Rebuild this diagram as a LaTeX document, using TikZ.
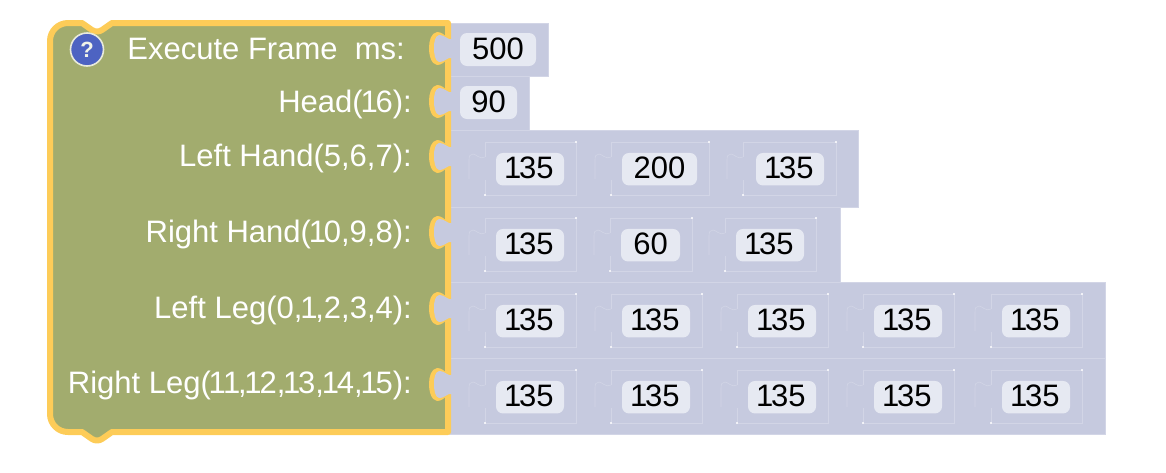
\documentclass[tikz,border=0pt]{standalone}
\usepackage{fontspec}
\setmainfont{Liberation Sans}
\definecolor{blockgreen}{HTML}{A2AC6E}
\definecolor{blockyellow}{HTML}{FDCC58}
\definecolor{rowgrey}{HTML}{C6CADF}
\definecolor{rowline}{HTML}{D2D5E6}
\definecolor{chipgrey}{HTML}{E6E9F2}
\definecolor{helpblue}{HTML}{4D63C2}
\newcommand{\nar}{\kern-2.2pt 1\kern-2.2pt}
\tikzset{
  rowbox/.style = {fill = rowgrey, draw = rowline, line width = 0.6},
  slotline/.style = {draw = rowline, line width = 0.6},
  chip/.style = {fill = chipgrey, rounded corners = 7, inner sep = 0, text height = 25.5, text depth = 7, font = \fontsize{31}{34}\selectfont},
  rowlabel/.style = {anchor = base east, inner sep = 0, text = white, font = \fontsize{31}{34}\selectfont},
}
\begin{document}
\begin{tikzpicture}[x = 1pt, y = -1pt]
\useasboundingbox (0,0) rectangle (1166,472);
% value rows behind the block
\foreach \top/\bottom/\right in {23/76/548,76/130/529,130/207/858,207/282/840,282/358/1105,358/434/1105} \draw [rowbox] (449,\top) rectangle (\right,\bottom);
% main block
\draw [fill = blockgreen, draw = blockyellow, line width = 6, line join = round] (50,41) .. controls (50,31) and (58,23) .. (68,23) -- (82,23) -- (92,30) .. controls (95,32) and (99,32) .. (102,30) -- (112,23) -- (448,23) -- (448,432) -- (112,432) -- (102,439) .. controls (99,441) and (95,441) .. (92,439) -- (82,432) -- (68,432) .. controls (58,432) and (50,424) .. (50,414) -- cycle;
% sockets, and the tabs of the rows in them
\foreach \c in {48,101,156,232,308,384} {
  \fill [blockyellow] (448,\c-10) .. controls (444,\c-13) and (442,\c-16) .. (437,\c-16) .. controls (431,\c-15) and (429,\c-7) .. (429,\c) .. controls (429,\c+7) and (431,\c+16) .. (437,\c+17) .. controls (442,\c+17) and (444,\c+14) .. (448,\c+11) -- cycle;
  \fill [rowgrey] (452,\c-9) -- (449,\c-9) .. controls (445,\c-11) and (443,\c-13) .. (439,\c-13) .. controls (435,\c-12) and (434,\c-6) .. (434,\c) .. controls (434,\c+6) and (435,\c+13) .. (439,\c+14) .. controls (443,\c+14) and (445,\c+12) .. (449,\c+10) -- (452,\c+10) -- cycle;
}
% help icon
\node (help) [circle, fill = helpblue, draw = white!75!blockgreen, line width = 1.6, minimum size = 33, inner sep = 0, text = white!85!blockgreen, font = \fontsize{22}{24}\selectfont\bfseries] at (87,49.5) {?};
% labels
\node (framelabel) [rowlabel] at (405,59) {Execute Frame\ \ ms:};
\node (headlabel) [rowlabel] at (412,112) {Head(\nar6):};
\node (lefthandlabel) [rowlabel] at (412,166) {Left Hand(5,6,7):};
\node (righthandlabel) [rowlabel] at (412,242) {Right Hand(\nar0,9,8):};
\node (leftleglabel) [rowlabel] at (412,318) {Left Leg(0,\nar,2,3,4):};
\node (rightleglabel) [rowlabel] at (412,393) {Right Leg(\nar\kern1.5pt\nar,\nar2,\nar3,\nar4,\nar5):};
% plain values
\node (frameval) [chip, minimum width = 76, text height = 26, text depth = 7] at (498,49.5) {500};
\node (headval) [chip, minimum width = 57, text height = 26, text depth = 7] at (488.5,102.5) {90};
% nested value blocks
\foreach \row/\t/\slots in {
  a/142/{485/576/496/68/\nar35,611/709/622/75/200,743/836/756/68/\nar35},
  b/218/{485/576/496/68/\nar35,610/692/621/59/60,725/816/736/68/\nar35},
  c/294/{485/576/496/68/\nar35,611/702/622/68/\nar35,737/828/748/68/\nar35,863/954/874/68/\nar35,991/1082/1002/68/\nar35},
  d/370/{485/576/496/68/\nar35,611/702/622/68/\nar35,737/828/748/68/\nar35,863/954/874/68/\nar35,991/1082/1002/68/\nar35}}
  \foreach \l/\r/\x/\w/\val [count = \n] in \slots {
    \draw [slotline] (\l,\t+15) -- (\l,\t) -- (\r,\t) -- (\r,\t+53) -- (\l,\t+53) -- (\l,\t+38);
    \draw [slotline] (\l,\t+15) .. controls (\l-5,\t+18) and (\l-9,\t+12) .. (\l-12,\t+12) .. controls (\l-15,\t+12) and (\l-16,\t+14) .. (\l-16,\t+18) -- (\l-16,\t+37);
    \fill [white] (\r,\t) circle (1.2) (\l,\t+53) circle (1.2);
    \node (val\row\n) [chip, minimum width = \w] at (\x+\w/2,\t+27.2) {\val};
  }
\end{tikzpicture}
\end{document}
